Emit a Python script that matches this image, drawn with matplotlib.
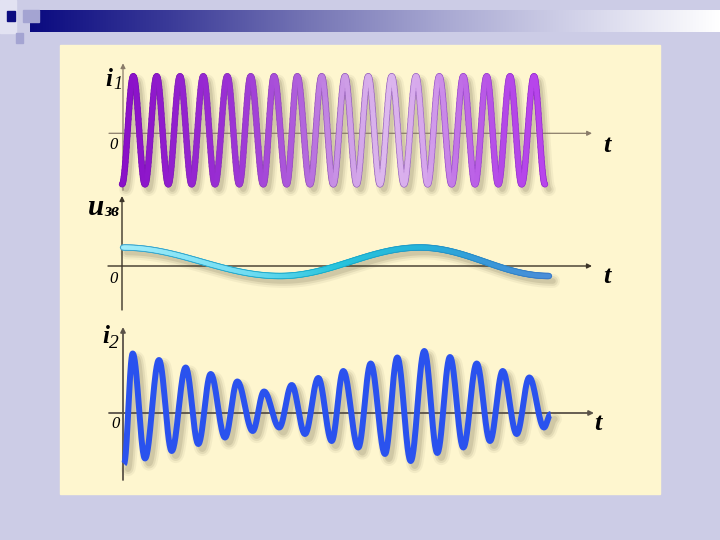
import numpy as np
import matplotlib
matplotlib.use("Agg")
import matplotlib.pyplot as plt
import matplotlib.transforms as mtransforms
from matplotlib.collections import LineCollection
from matplotlib.colors import LinearSegmentedColormap
from matplotlib.patches import Rectangle

# extrema of each curve
# time in px-like units from the y axis, value in px-like units from the t axis
i1_t = [-1, 10.3, 22, 33.7, 45.3, 57, 68.7, 80.3, 92, 104.3, 116.3, 127.7,
        140.3, 151, 163.7, 174.3, 187, 198.7, 210.3, 222, 233.7, 245.3, 257,
        268.7, 281, 293, 304.7, 316.3, 328.7, 340.3, 352, 363.7, 375.3, 387,
        398.7, 411, 422]
i1_v = [-51, 57, -51, 57, -51, 57, -51, 57, -51, 57, -51, 57, -51, 57, -51,
        57, -51, 57, -51, 57, -51, 57, -51, 57, -51, 57, -51, 57, -51, 57,
        -51, 57, -51, 57, -51, 57, -51]

u_t = [1, 158, 298, 427]
u_v = [18.5, -10, 18.5, -10]

i2_t = [1, 9.7, 22, 36, 48.7, 62.7, 75.3, 87.7, 102, 114.3, 129.7, 141,
        156.3, 168.7, 182, 195.3, 208.7, 220.3, 235.3, 247.7, 262, 274.3,
        287.7, 301.3, 314.3, 327, 340.3, 353.7, 367, 379.7, 393.7, 406.3,
        421, 427.7]
i2_v = [-51, 59.5, -45.5, 53, -38, 45.5, -31, 39, -24.5, 31.5, -18, 21.5,
        -14.5, 28, -21, 35, -28, 42, -34.5, 49.5, -41, 55.5, -48, 62, -40,
        56, -34.5, 49.5, -28, 42, -21, 35.5, -14.5, -1]

W, H = 720, 540
fig = plt.figure(figsize=(7.2, 5.4), dpi=100)
fig.patch.set_facecolor("#ccccE6")

serif = ["Liberation Serif", "DejaVu Serif"]

# slide decoration in pixel coordinates
bg = fig.add_axes([0, 0, 1, 1])
bg.set_xlim(0, W)
bg.set_ylim(H, 0)
bg.axis("off")

bar_cmap = LinearSegmentedColormap.from_list(
    "bar", ["#0a0a80", "#3a3a98", "#7474b4", "#a8a8d2", "#d4d4ea", "#ffffff"])
bg.imshow(np.linspace(0, 1, 256)[None, :], cmap=bar_cmap, aspect="auto",
          extent=(30, 720, 32, 10), zorder=1)
bg.add_patch(Rectangle((0, 0), 16, 33, color="#e2e2f2", zorder=2))
bg.add_patch(Rectangle((7, 11), 8, 10, color="#0c0c80", zorder=3))
bg.add_patch(Rectangle((23, 10), 16, 12, color="#a4a4d2", zorder=3))
bg.add_patch(Rectangle((16, 33), 7, 10, color="#a4a4d2", zorder=3))
bg.add_patch(Rectangle((60, 45), 600, 449, color="#fef6cf", zorder=1))

# axis labels
bold_it = dict(family=serif, style="italic", weight="bold", color="black")
it = dict(family=serif, style="italic", color="black")
bg.text(105, 86, "i", fontsize=18, **bold_it)
bg.text(113, 89, "1", fontsize=13, **it)
bg.text(88, 215, "u", fontsize=21, **bold_it)
bg.text(104, 216, "зв", fontsize=13, **bold_it)
bg.text(102, 343, "i", fontsize=18, **bold_it)
bg.text(109, 348, "2", fontsize=14, **it)
bg.text(109, 149, "0", fontsize=12, **it)
bg.text(109, 283, "0", fontsize=12, **it)
bg.text(111, 428, "0", fontsize=12, **it)
bg.text(603, 152, "t", fontsize=19, **bold_it)
bg.text(603, 283, "t", fontsize=19, **bold_it)
bg.text(594, 430, "t", fontsize=19, **bold_it)


def panel_axes(box, origin):
    l, t, r, b = box
    ax = fig.add_axes([l / W, 1 - b / H, (r - l) / W, (b - t) / H])
    ax.set_xlim(l - origin[0], r - origin[0])
    ax.set_ylim(origin[1] - b, origin[1] - t)
    ax.axis("off")
    return ax


def wave(ts, vs, n=30):
    tt, yy = [], []
    for k in range(len(ts) - 1):
        s = np.linspace(0, 1, n, endpoint=False)
        tt.append(ts[k] + (ts[k + 1] - ts[k]) * s)
        yy.append(vs[k] + (vs[k + 1] - vs[k]) * (1 - np.cos(np.pi * s)) / 2)
    tt.append([ts[-1]])
    yy.append([vs[-1]])
    return np.concatenate(tt), np.concatenate(yy)


def draw_axes(ax, x0, x1, y0, y1, color, lw):
    arrow = dict(arrowstyle="-|>", color=color, lw=lw, mutation_scale=7,
                 shrinkA=0, shrinkB=0)
    ax.annotate("", xy=(x1, 0), xytext=(x0, 0), arrowprops=arrow,
                annotation_clip=False, zorder=2)
    ax.annotate("", xy=(0, y1), xytext=(0, y0), arrowprops=arrow,
                annotation_clip=False, zorder=2)


def shadow(ax, t, y, lw):
    tr = mtransforms.offset_copy(ax.transData, fig=fig, x=4, y=-5, units="dots")
    for extra, a in [(6, 0.08), (3, 0.13), (0, 0.18)]:
        ax.plot(t, y, color="#7e7458", lw=lw + extra, alpha=a, transform=tr,
                solid_capstyle="round", clip_on=False, zorder=1)


def gradient_line(ax, t, y, colors, lw, z):
    cmap = LinearSegmentedColormap.from_list("g", colors)
    pts = np.column_stack([t, y]).reshape(-1, 1, 2)
    segs = np.concatenate([pts[:-1], pts[1:]], axis=1)
    lc = LineCollection(segs, cmap=cmap, norm=plt.Normalize(t.min(), t.max()),
                        linewidths=lw, capstyle="round", joinstyle="round",
                        zorder=z, clip_on=False)
    lc.set_array((t[:-1] + t[1:]) / 2)
    ax.add_collection(lc)


# i1
ax1 = panel_axes((60, 45, 660, 195), (123, 133.3))
draw_axes(ax1, -14, 469, -57, 70, "#8a7c6a", 0.9)
t, y = wave(i1_t, i1_v)
shadow(ax1, t, y, 3.8)
gradient_line(ax1, t, y, [(0.0, "#7a10b4"), (0.4, "#9a50c0"), (0.55, "#a070c0"),
                          (0.7, "#a878c8"), (0.8, "#a050d0"), (1.0, "#9a30d0")],
              4.6, 3)
gradient_line(ax1, t, y, [(0.0, "#8a0fc8"), (0.25, "#9a30d4"), (0.42, "#b060dc"),
                          (0.52, "#cc99e6"), (0.62, "#ddb8ee"), (0.72, "#d6a6ec"),
                          (0.8, "#c070e6"), (0.9, "#b448e8"), (1.0, "#b844ec")],
              3.4, 4)

# u
ax2 = panel_axes((60, 190, 660, 320), (122, 266))
draw_axes(ax2, -14, 470, -44, 70, "#3c3428", 1.0)
t, y = wave(u_t, u_v, n=120)
shadow(ax2, t, y, 4.0)
gradient_line(ax2, t, y, [(0.0, "#40a8d0"), (0.5, "#18b0cc"), (0.8, "#2890c8"),
                          (1.0, "#3c7cc8")], 4.6, 3)
gradient_line(ax2, t, y, [(0.0, "#a0ecfa"), (0.3, "#70dcf2"), (0.5, "#28c4dc"),
                          (0.7, "#24b4da"), (0.85, "#3898d8"), (1.0, "#4a8ed8")],
              3.0, 4)

# i2
ax3 = panel_axes((60, 320, 660, 494), (123, 413))
draw_axes(ax3, -14, 471, -67, 86, "#5a5248", 1.3)
t, y = wave(i2_t, i2_v)
shadow(ax3, t, y, 4.3)
ax3.plot(t, y, color="#2a52ee", lw=4.3, solid_capstyle="butt", clip_on=False,
         zorder=4)

fig.savefig("out.png", dpi=100, facecolor=fig.get_facecolor())
